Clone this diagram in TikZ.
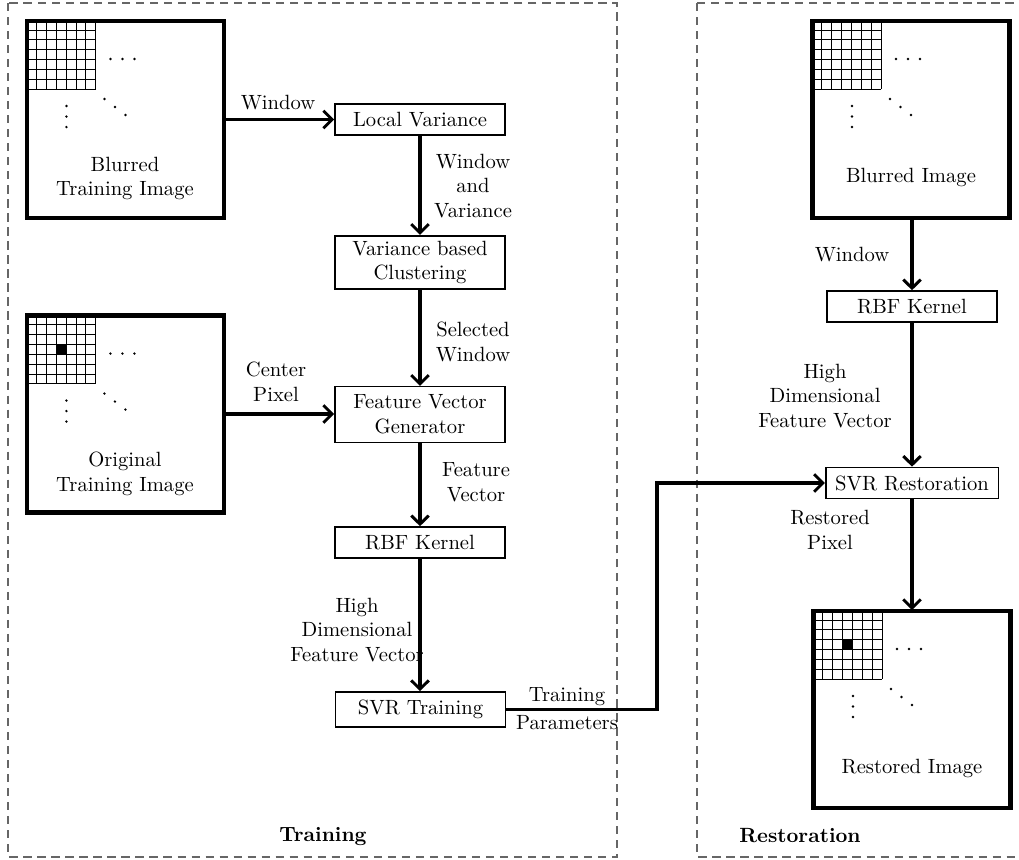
\documentclass[tikz,border=0pt]{standalone}
\usetikzlibrary{calc,arrows.meta}
\begin{document}
\begin{tikzpicture}[x=0.485pt,y=-0.485pt,
  frame/.style={draw=black!60,line width=0.5pt,dash pattern=on 4pt off 2.8pt},
  imgbox/.style={draw,line width=1.45pt,minimum width=94.6pt,minimum height=95pt,inner sep=0pt},
  procbox/.style={draw,line width=0.8pt,minimum width=82.5pt,inner xsep=4.6pt,inner ysep=0pt},
  arr/.style={-{Straight Barb[length=4.2pt,width=8.5pt,line width=1.4pt]},line width=1.55pt},
  lbl/.style={align=center,inner sep=0pt},
  gridline/.style={line width=0.45pt},
  dotc/.style={fill=black}
]
\useasboundingbox (0,0) rectangle (1019,859);
% frames
\draw[frame] (8,3) rectangle (617,857);
\draw[frame] (697,3) -- (1022,3);
\draw[frame] (697,3) -- (697,857) -- (1022,857);
\node[font=\bfseries,inner sep=0pt] (trainlbl) at (323,836) {Training};
\node[font=\bfseries,inner sep=0pt] (restlbl) at (800,836) {Restoration};

% image boxes
\node[imgbox] (b1) at (125.5,119.5) {};
\node[imgbox] (o1) at (125.5,414) {};
\node[imgbox] (bi) at (911,119.5) {};
\node[imgbox] (ri) at (912,709.5) {};

\foreach \n/\c in {b1/0,o1/1,bi/0,ri/1}{
  \begin{scope}[shift={(\n.north west)}]
    \foreach \i in {0,...,7}{
      \draw[gridline] (\i*9.9,0) -- (\i*9.9,69.3);
      \draw[gridline] (0,\i*9.9) -- (69.3,\i*9.9);
    }
    \ifnum\c=1 \fill (29.7,29.7) rectangle (39.6,39.6); \fi
    \fill[dotc] (84,39) circle (0.65pt) (96,39) circle (0.65pt) (108,39) circle (0.65pt);
    \fill[dotc] (40,86) circle (0.65pt) (40,96.5) circle (0.65pt) (40,107) circle (0.65pt);
    \fill[dotc] (78,79) circle (0.65pt) (88.5,87) circle (0.65pt) (99,95) circle (0.65pt);
  \end{scope}
  \draw[line width=1.45pt] (\n.north west) rectangle (\n.south east);
}

\node[lbl] (b1t) at (125,178.5) {Blurred\\Training Image};
\node[lbl] (o1t) at (125,474) {Original\\Training Image};
\node[lbl] (bit) at (911,177) {Blurred Image};
\node[lbl] (rit) at (912,768) {Restored Image};

% process boxes
\node[procbox,minimum height=15pt] (lv) at (420,119.5) {Local Variance};
\node[procbox,minimum height=26pt,align=center] (vbc) at (420,262.5) {Variance based\\Clustering};
\node[procbox,minimum height=27pt,align=center] (fvg) at (420,414.5) {Feature Vector\\Generator};
\node[procbox,minimum height=15pt] (rbf1) at (420,542.5) {RBF Kernel};
\node[procbox,minimum height=17pt] (svrt) at (420.5,709.5) {SVR Training};
\node[procbox,minimum height=15pt] (rbf2) at (912,306.5) {RBF Kernel};
\node[procbox,minimum height=15pt] (svrr) at (912,483) {SVR Restoration};

% arrows
\draw[arr] (b1.east |- lv.west) -- (lv.west);
\draw[arr] (lv.south) -- (vbc.north);
\draw[arr] (vbc.south) -- (fvg.north);
\draw[arr] (o1.east) -- (o1.east -| fvg.west);
\draw[arr] (fvg.south) -- (rbf1.north);
\draw[arr] (rbf1.south) -- (rbf1.south |- svrt.north);
\coordinate (bend) at (657,483);
\draw[arr] (svrt.east) -| (bend) -- (svrr.west);
\draw[arr] (bi.south -| rbf2.north) -- (rbf2.north);
\draw[arr] (rbf2.south) -- (svrr.north);
\draw[arr] (svrr.south) -- (svrr.south |- ri.north);

% labels
\node[lbl] (l1) at (278,103) {Window};
\node[lbl] (l2) at (473,186) {Window\\and\\Variance};
\node[lbl] (l3) at (473,342) {Selected\\Window};
\node[lbl] (l4) at (276,382) {Center\\Pixel};
\node[lbl] (l5) at (476,482) {Feature\\Vector};
\node[lbl] (l6) at (357,630) {High\\Dimensional\\Feature Vector};
\node[lbl] (l7) at (567,697) {Training};
\node[lbl] (l8) at (567,723) {Parameters};
\node[lbl] (l9) at (852,255) {Window};
\node[lbl] (l10) at (825,396) {High\\Dimensional\\Feature Vector};
\node[lbl] (l11) at (830,530) {Restored\\Pixel};
\end{tikzpicture}
\end{document}
